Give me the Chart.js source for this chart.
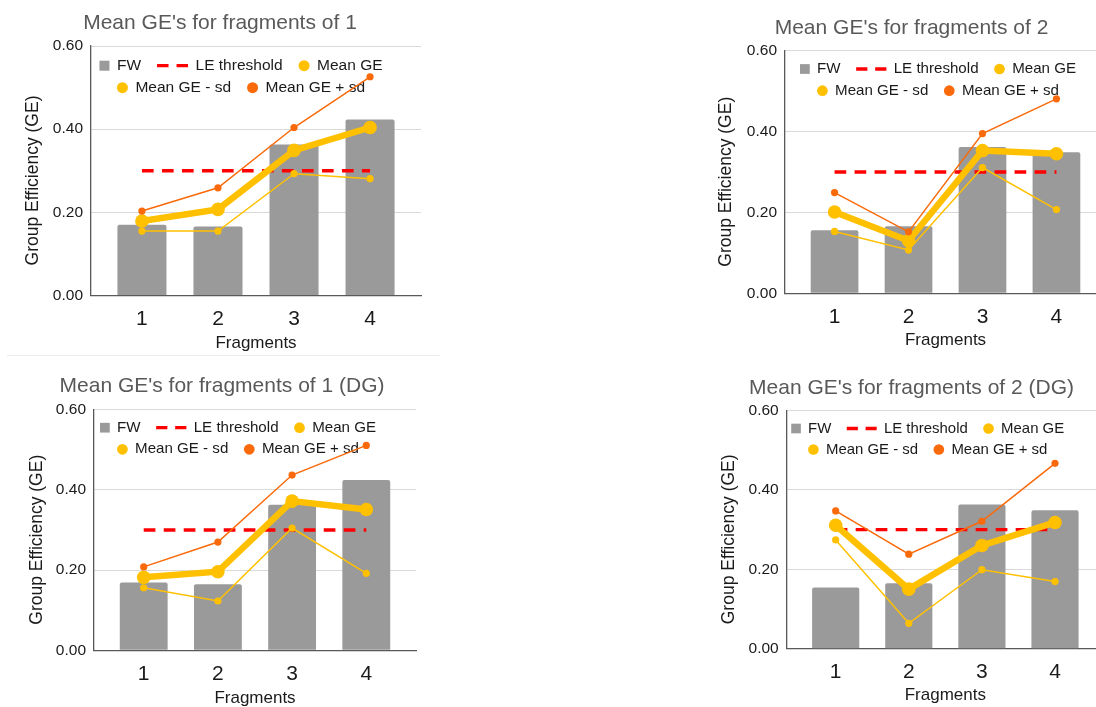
<!DOCTYPE html>
<html>
<head>
<meta charset="utf-8">
<script src="https://cdn.jsdelivr.net/npm/chart.js@4.4.1/dist/chart.umd.min.js"></script>
<style>
  html, body { margin: 0; padding: 0; background: #fff; overflow: hidden; width: 1096px; height: 707px; }
  canvas { position: absolute; }
  .sep { position: absolute; left: 7px; top: 355px; width: 433px; height: 1px; background: #ebebeb; }
</style>
</head>
<body>
<canvas id="c1" width="440" height="355" style="left:0px;top:0px"></canvas>
<canvas id="c2" width="440" height="355" style="left:690px;top:0px"></canvas>
<div class="sep"></div>
<canvas id="c3" width="440" height="350" style="left:0px;top:360px"></canvas>
<canvas id="c4" width="440" height="350" style="left:690px;top:360px"></canvas>
<script>
// data
const fragments = [1, 2, 3, 4];
const yTicks = [0, 0.2, 0.4, 0.6];
const leThreshold = [0.3, 0.3, 0.3, 0.3];

// fragments of 1
const fw1 = [0.170, 0.166, 0.363, 0.423];
const mean1 = [0.179, 0.207, 0.349, 0.404];
const minus1 = [0.155, 0.155, 0.293, 0.281];
const plus1 = [0.203, 0.259, 0.404, 0.526];

// fragments of 2
const fw2 = [0.156, 0.166, 0.362, 0.349];
const mean2 = [0.201, 0.130, 0.353, 0.345];
const minus2 = [0.153, 0.107, 0.311, 0.207];
const plus2 = [0.249, 0.152, 0.395, 0.481];

// fragments of 1 (DG)
const fw1dg = [0.169, 0.165, 0.363, 0.425];
const mean1dg = [0.182, 0.196, 0.372, 0.351];
const minus1dg = [0.156, 0.123, 0.305, 0.192];
const plus1dg = [0.208, 0.270, 0.437, 0.511];

// fragments of 2 (DG)
const fw2dg = [0.154, 0.165, 0.363, 0.349];
const mean2dg = [0.311, 0.150, 0.260, 0.318];
const minus2dg = [0.274, 0.064, 0.199, 0.169];
const plus2dg = [0.347, 0.238, 0.321, 0.467];

const FONT = '"Liberation Sans", Arial, sans-serif';
Chart.defaults.font.family = FONT;

const GRAY = '#9a9a9a';
const GOLD = '#FFC000';
const ORANGE = '#FA6A0A';
const RED = '#FF0000';

const pts = arr => arr.map((v, i) => ({ x: fragments[i], y: v }));

// legend drawn inside the plot area, two rows, under the lines
const insideLegend = {
  id: 'insideLegend',
  beforeDatasetsDraw(chart, args, opts) {
    const { ctx, chartArea } = chart;
    const sets = chart.data.datasets;
    const k = opts.scale;
    ctx.save();
    ctx.font = (15.5 * k) + 'px ' + FONT;
    ctx.textBaseline = 'middle';
    const symW = ds => (ds.type === 'bar' ? 10 : (ds.borderDash ? 31 : 11)) * k;
    const gap = 7.5 * k, spacing = 16 * k;
    opts.rows.forEach((row, r) => {
      const y = chartArea.top + opts.rowY[r];
      const widths = row.map(i => symW(sets[i]) + gap + ctx.measureText(sets[i].label).width);
      const total = widths.reduce((a, b) => a + b, 0) + spacing * (row.length - 1);
      let x = chartArea.left + opts.centerX - total / 2;
      row.forEach((i, n) => {
        const ds = sets[i];
        if (ds.type === 'bar') {
          ctx.fillStyle = ds.backgroundColor;
          ctx.fillRect(x, y - 5 * k, 10 * k, 10 * k);
        } else if (ds.borderDash) {
          ctx.strokeStyle = ds.borderColor;
          ctx.lineWidth = 3.3;
          ctx.setLineDash([11.5 * k, 8 * k]);
          ctx.beginPath();
          ctx.moveTo(x, y);
          ctx.lineTo(x + 31 * k, y);
          ctx.stroke();
          ctx.setLineDash([]);
        } else {
          ctx.fillStyle = ds.pointBackgroundColor;
          ctx.beginPath();
          ctx.arc(x + 5.5 * k, y, 5.5 * k, 0, Math.PI * 2);
          ctx.fill();
        }
        ctx.fillStyle = '#1a1a1a';
        ctx.fillText(ds.label, x + symW(ds) + gap, y);
        x += widths[n] + spacing;
      });
    });
    ctx.restore();
  }
};

function makePanel(id, title, fw, mean, minus, plus, lay) {
  return new Chart(document.getElementById(id), {
    type: 'bar',
    data: {
      datasets: [
        { type: 'bar', label: 'FW', data: pts(fw), backgroundColor: GRAY, borderRadius: 2,
          categoryPercentage: 1, barPercentage: 0.645, order: 5 },
        { type: 'line', label: 'LE threshold', data: pts(leThreshold), borderColor: RED, borderWidth: 3.3,
          borderDash: [11.7, 8.3], pointRadius: 0, order: 4 },
        { type: 'line', label: 'Mean GE', data: pts(mean), borderColor: GOLD, borderWidth: 6.5,
          pointRadius: 6.8, pointBackgroundColor: GOLD, pointBorderWidth: 0, order: 2 },
        { type: 'line', label: 'Mean GE - sd', data: pts(minus), borderColor: GOLD, borderWidth: 1.5,
          pointRadius: 3.6, pointBackgroundColor: GOLD, pointBorderWidth: 0, order: 3 },
        { type: 'line', label: 'Mean GE + sd', data: pts(plus), borderColor: ORANGE, borderWidth: 1.5,
          pointRadius: 3.6, pointBackgroundColor: ORANGE, pointBorderWidth: 0, order: 1 }
      ]
    },
    options: {
      responsive: false,
      animation: false,
      layout: { padding: { left: lay.padL, right: lay.padR, top: 0, bottom: 0 } },
      plugins: {
        legend: { display: false },
        tooltip: { enabled: false },
        title: {
          display: true, text: title, color: '#595959',
          font: { size: 21, weight: 'normal' },
          padding: { top: lay.titleTop, bottom: lay.titleBottom }
        },
        insideLegend: { rows: [[0, 1, 2], [3, 4]], rowY: lay.rowY, centerX: lay.legendX, scale: lay.legendScale }
      },
      scales: {
        x: {
          type: 'linear', min: 0.33, max: 4.67, offset: false,
          afterBuildTicks: s => { s.ticks = fragments.map(v => ({ value: v })); },
          afterFit: s => { s.height = lay.xHeight; },
          grid: { display: false, drawTicks: false, offset: false },
          border: { display: true, color: '#595959', width: 1.3 },
          ticks: { color: '#1a1a1a', font: { size: 21 }, padding: 11, callback: v => String(v) },
          title: { display: true, text: 'Fragments', color: '#1a1a1a', font: { size: 17 },
                   padding: { top: 0, bottom: lay.xTitleBottom } }
        },
        y: {
          min: 0, max: 0.6,
          afterBuildTicks: s => { s.ticks = yTicks.map(v => ({ value: v })); },
          afterFit: s => { s.width = lay.yWidth; },
          grid: { color: '#d9d9d9', drawTicks: false, lineWidth: 1 },
          border: { display: true, color: '#595959', width: 1.3 },
          ticks: { color: '#1a1a1a', font: { size: 15.5 }, padding: 8, callback: v => v.toFixed(2) },
          title: { display: true, text: 'Group Efficiency (GE)    ', color: '#1a1a1a', font: { size: 17.5 },
                   padding: { top: lay.yTitleTop, bottom: 0 } }
        }
      }
    },
    plugins: [insideLegend]
  });
}

makePanel('c1', "Mean GE's for fragments of 1", fw1, mean1, minus1, plus1,
  { padL: 19, padR: 19, yWidth: 72, xHeight: 59.5, titleTop: 10.4, titleBottom: 10.4,
    yTitleTop: 3.5, xTitleBottom: 1.5, legendX: 150, rowY: [19.7, 41.7], legendScale: 1 });
makePanel('c2', "Mean GE's for fragments of 2", fw2, mean2, minus2, plus2,
  { padL: 27, padR: 24, yWidth: 68, xHeight: 61.7, titleTop: 15.7, titleBottom: 9.8,
    yTitleTop: -1.5, xTitleBottom: 4.8, legendX: 153, rowY: [18.3, 40], legendScale: 0.975 });
makePanel('c3', "Mean GE's for fragments of 1 (DG)", fw1dg, mean1dg, minus1dg, plus1dg,
  { padL: 28, padR: 24, yWidth: 66, xHeight: 59.7, titleTop: 13.4, titleBottom: 11.1,
    yTitleTop: -1.8, xTitleBottom: 1.5, legendX: 144, rowY: [18, 39.6], legendScale: 0.975 });
makePanel('c4', "Mean GE's for fragments of 2 (DG)", fw2dg, mean2dg, minus2dg, plus2dg,
  { padL: 29, padR: 26, yWidth: 67.7, xHeight: 61.3, titleTop: 15.7, titleBottom: 9.6,
    yTitleTop: -0.2, xTitleBottom: 4.8, legendX: 141, rowY: [18, 39], legendScale: 0.965 });
</script>
</body>
</html>
